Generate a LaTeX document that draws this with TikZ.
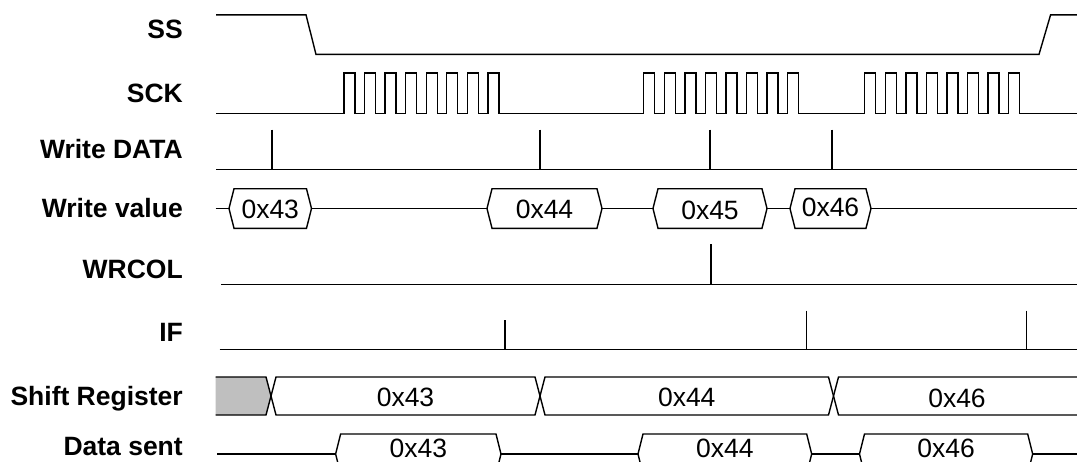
\documentclass[tikz,border=0pt]{standalone}
\usepackage{fontspec}
\setmainfont{Liberation Sans}
\newcommand{\busbox}[7]{% name, x1, x2, yc, half height, baseline, text
  \draw[sig] (#2,#4) -- ({#2+5},{#4-#5}) -- ({#3-5},{#4-#5}) -- (#3,#4) -- ({#3-5},{#4+#5}) -- ({#2+5},{#4+#5}) -- cycle;
  \node[val, anchor=base] (#1) at ({(#2+#3)/2},#6) {#7};}
\begin{document}
\begin{tikzpicture}[x=1pt,y=-1pt,
  sig/.style={line width=1.4pt, line join=miter},
  lbl/.style={anchor=base east, font=\fontsize{26.5}{26.5}\selectfont\bfseries, inner sep=0},
  val/.style={font=\fontsize{26.5}{26.5}\selectfont, inner sep=0}]
\useasboundingbox (0,0) rectangle (1077,461);
\clip (0,0) rectangle (1077,461);

% labels
\node[lbl] (lSS)  at (183,38.5)  {SS};
\node[lbl] (lSCK) at (183,102)   {SCK};
\node[lbl] (lWD)  at (183,158.5) {Write DATA};
\node[lbl] (lWV)  at (183,217.5) {Write value};
\node[lbl] (lWC)  at (183,278.5) {WRCOL};
\node[lbl] (lIF)  at (183,341)   {IF};
\node[lbl] (lSR)  at (183,405.5) {Shift Register};
\node[lbl] (lDS)  at (183,455)   {Data sent};

% SS
\draw[sig] (216,14.8) -- (306,14.8) -- (316,54.4) -- (1039,54.4) -- (1050.6,14.8) -- (1090,14.8);

% SCK
\draw[sig] (216,113.6)
  foreach \s in {344,643.7,864.7} {
    foreach \i in {0,...,7} {
      -- ({\s+20.55*\i},113.6) -- ({\s+20.55*\i},73) -- ({\s+20.55*\i+11},73) -- ({\s+20.55*\i+11},113.6)
    }
  } -- (1090,113.6);

% Write DATA
\draw[sig] (216,169.2) -- (1090,169.2);
\foreach \x in {272,539.8,710,832} \draw[sig] (\x,129.6) -- (\x,169.2);

% Write value
\draw[sig] (215.5,208.5) -- (229,208.5);
\draw[sig] (311.5,208.5) -- (487,208.5);
\draw[sig] (602,208.5) -- (653,208.5);
\draw[sig] (767,208.5) -- (790,208.5);
\draw[sig] (871,208.5) -- (1090,208.5);
\busbox{wv1}{229}{311.5}{208.5}{19.8}{218}{0x43}
\busbox{wv2}{487}{602}{208.5}{19.8}{218}{0x44}
\busbox{wv3}{653}{767}{208.5}{19.8}{219}{0x45}
\busbox{wv4}{790}{871}{208.5}{19.8}{216.4}{0x46}

% WRCOL
\draw[sig] (221,284.7) -- (1090,284.7);
\draw[sig] (711,244) -- (711,284.7);

% IF
\draw[sig] (219.6,349.5) -- (1090,349.5);
\draw[sig] (505,320) -- (505,349.5);
\draw[sig] (806.5,310.6) -- (806.5,349.5);
\draw[sig] (1026.5,310.6) -- (1026.5,349.5);

% Shift Register
\fill[black!25] (215.5,377) -- (266,377) -- (271,396) -- (266,415) -- (215.5,415) -- cycle;
\draw[sig] (215.5,377) -- (266,377) -- (271,396) -- (266,415) -- (215.5,415);
\busbox{sr1}{271}{540}{396}{19}{406.5}{0x43}
\busbox{sr2}{540}{833.5}{396}{19}{406.5}{0x44}
\busbox{sr3}{833.5}{1110}{396}{19}{407}{}
\node[val, anchor=base] (sr3t) at (957,407) {0x46};

% Data sent
\draw[sig] (217,454) -- (335.6,454);
\draw[sig] (501,454) -- (638,454);
\draw[sig] (811.7,454) -- (859.5,454);
\draw[sig] (1032.7,454) -- (1090,454);
\busbox{ds1}{335.6}{501}{454}{20}{457}{0x43}
\busbox{ds2}{638}{811.7}{454}{20}{457}{0x44}
\busbox{ds3}{859.5}{1032.7}{454}{20}{457}{0x46}
\end{tikzpicture}
\end{document}
